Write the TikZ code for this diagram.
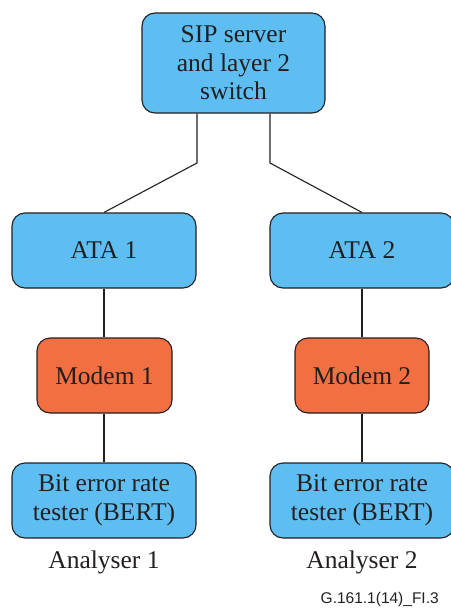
\documentclass[tikz,border=0pt]{standalone}
\usepackage{fontspec}
\setmainfont{Liberation Serif}
\newfontfamily\footfont{Liberation Sans}
\definecolor{boxblue}{RGB}{94,190,242}
\definecolor{boxorange}{RGB}{242,111,66}
\definecolor{inkline}{RGB}{35,31,32}
\begin{document}
\begin{tikzpicture}[x=1pt,y=-1pt,
  unitbox/.style={draw=inkline, line width=1.1pt, rounded corners=13pt,
    align=center, inner sep=0pt, text=inkline,
    font=\fontsize{25.5}{28.5}\selectfont},
  bluebox/.style={unitbox, fill=boxblue},
  orangebox/.style={unitbox, fill=boxorange},
  wire/.style={draw=inkline, line width=1.1pt},
  caption/.style={anchor=base, text=inkline, inner sep=0pt,
    font=\fontsize{25.5}{28.5}\selectfont}]
\useasboundingbox (0,0) rectangle (450,608);
% main unit
\node[bluebox, minimum width=183pt, minimum height=100pt] (sip) at (233.5,63)
  {SIP server\\and layer 2\\switch};
% adapters
\node[bluebox, minimum width=184pt, minimum height=75pt] (ata1) at (104,250.5) {ATA 1};
\node[bluebox, minimum width=184pt, minimum height=75pt] (ata2) at (362,250.5) {ATA 2};
% modems
\node[orangebox, minimum width=135pt, minimum height=75pt] (mod1) at (104.5,375.5) {Modem 1};
\node[orangebox, minimum width=134pt, minimum height=75pt] (mod2) at (362,375.5) {Modem 2};
% testers
\node[bluebox, minimum width=184pt, minimum height=75pt] (bert1) at (104,500.5)
  {Bit error rate\\tester (BERT)};
\node[bluebox, minimum width=184pt, minimum height=75pt] (bert2) at (362,500.5)
  {Bit error rate\\tester (BERT)};
% captions
\node[caption] (an1) at (104,568) {Analyser 1};
\node[caption] (an2) at (362,568) {Analyser 2};
\node[anchor=base west, inner sep=0pt, text=inkline,
  font=\footfont\fontsize{15.5}{18}\selectfont] (tag) at (320.5,603) {G.161.1(14)\_FI.3};
% connections
\coordinate (bendl) at (197,163);
\coordinate (bendr) at (270,163);
\draw[wire] (sip.south -| bendl) -- (bendl) -- (ata1.north);
\draw[wire] (sip.south -| bendr) -- (bendr) -- (ata2.north);
\draw[wire] (ata1.south) -- (ata1.south |- mod1.north);
\draw[wire] (ata2.south) -- (ata2.south |- mod2.north);
\draw[wire] (mod1.south -| ata1.south) -- (ata1.south |- bert1.north);
\draw[wire] (mod2.south -| ata2.south) -- (ata2.south |- bert2.north);
\end{tikzpicture}
\end{document}
